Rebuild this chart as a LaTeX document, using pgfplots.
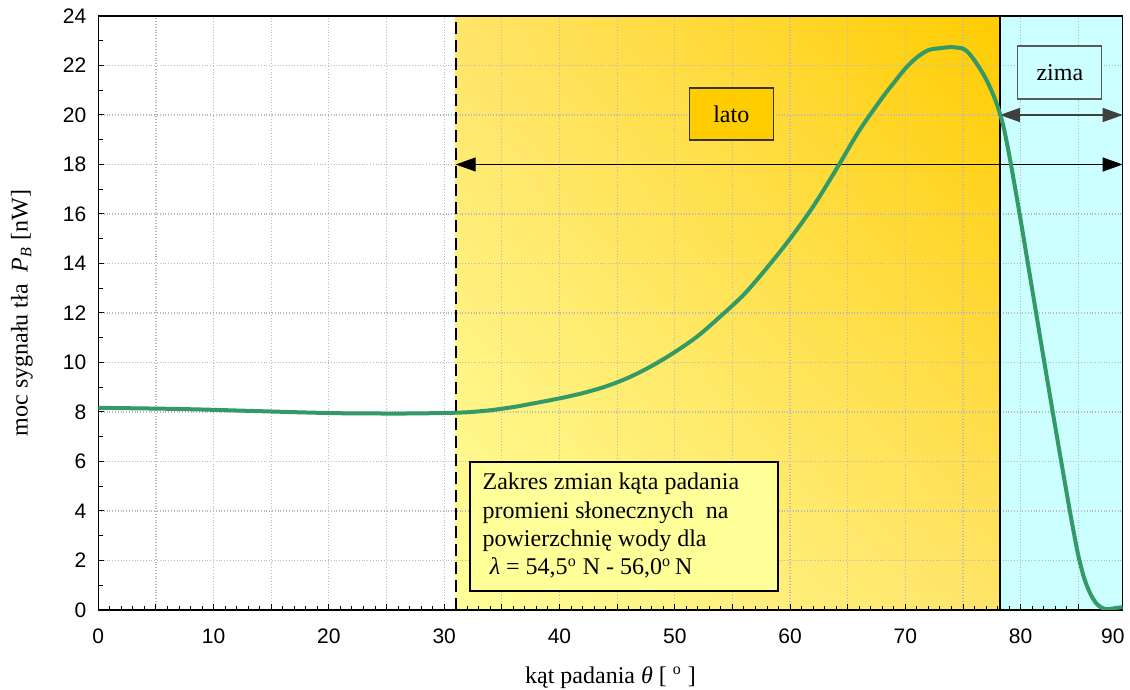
\documentclass[border=0pt]{standalone}
\usepackage{fontspec}
\setmainfont{Liberation Serif}
\newfontfamily\ticksf{Liberation Sans}
\usepackage{pgfplots}
\pgfplotsset{compat=1.18}
\usetikzlibrary{arrows.meta,shadings}
\definecolor{curve}{RGB}{51,153,102}
\definecolor{paley}{RGB}{255,255,153}
\definecolor{deepy}{RGB}{255,204,0}
\definecolor{midy}{RGB}{255,228,105}
\definecolor{cyanbg}{RGB}{204,255,255}
\definecolor{gridc}{RGB}{185,185,185}
\begin{document}
\begin{tikzpicture}
\begin{axis}[
  set layers,
  at={(0,0)}, anchor=south west,
  scale only axis, width=512.2pt, height=297pt,
  xmin=0, xmax=88.85, ymin=0, ymax=24,
  xtick={0,5,...,85},
  xticklabels={0,,10,,20,,30,,40,,50,,60,,70,,80,},
  extra x ticks={88}, extra x tick labels={90},
  extra x tick style={grid=none, major tick length=0pt},
  minor x tick num=4,
  ytick={0,2,...,24}, minor y tick num=1,
  tick align=inside, xtick pos=bottom, ytick pos=left,
  grid=major, major grid style={gridc, densely dotted, line width=0.6pt},
  axis line style={black, line width=0.7pt},
  tick style={black, line width=0.5pt},
  major tick length=3pt, minor tick length=2.2pt,
  /pgf/number format/assume math mode=true,
  ticklabel style={font=\ticksf\fontsize{10.5}{12}\selectfont},
  xticklabel style={yshift=-6pt},
  yticklabel style={xshift=-2.5pt},
  xlabel={kąt padania \textit{θ} [ \textsuperscript{o} ]},
  ylabel={moc sygnału tła\ \ \textit{P}\textsubscript{\textit{B}} [nW]},
  label style={font=\fontsize{12}{14}\selectfont},
  xlabel style={at={(axis description cs:0.5,-0.114)}, anchor=center},
  ylabel style={at={(axis description cs:-0.0745,0.5)}, anchor=center},
]
\addplot[forget plot, on layer=axis background, draw=none,
  lower left=paley, upper right=deepy, upper left=midy, lower right=midy]
  coordinates {(31,0) (78.2,0) (78.2,24) (31,24)} -- cycle;
\addplot[forget plot, on layer=axis background, draw=none, fill=cyanbg]
  coordinates {(78.2,0) (88.85,0) (88.85,24) (78.2,24)} -- cycle;

\draw[black, line width=0.7pt] (axis cs:78.2,0) -- (axis cs:78.2,24);
\draw[black, line width=1.1pt, dash pattern=on 6pt off 3pt] (axis cs:31,0) -- (axis cs:31,24);

\draw[black, line width=0.5pt, {Triangle[length=10pt,width=7pt]}-{Triangle[length=10pt,width=7pt]}]
  (axis cs:31,18) -- (axis cs:88.85,18);
\draw[black!75, line width=0.6pt, {Triangle[length=10pt,width=7pt]}-{Triangle[length=10pt,width=7pt]}]
  (axis cs:78.2,20) -- (axis cs:88.85,20);

\node[draw=black!80, fill=deepy, line width=0.6pt, minimum width=42pt, minimum height=26pt,
  font=\fontsize{12}{14}\selectfont] at (axis cs:54.9,20.04) {lato};
\node[draw=black!65, fill=cyanbg, line width=0.6pt, minimum width=42pt, minimum height=26.5pt,
  font=\fontsize{12}{14}\selectfont] at (axis cs:83.4,21.72) {zima};

\draw[black, line width=1.1pt, fill=paley] (axis cs:32.24,0.77) rectangle (axis cs:58.95,5.98);
\node[anchor=north west, inner sep=0pt, align=left, font=\fontsize{12}{14.2}\selectfont]
  at (axis cs:33.3,5.55) {Zakres zmian kąta padania\\
  promieni słonecznych\ \ na\\
  powierzchnię wody dla\\
  \hspace{0.3em}\textit{λ} = 54,5\textsuperscript{o} N - 56,0\textsuperscript{o}\,N};

\addplot[curve, line width=2pt, smooth, tension=0.5] coordinates {
(0,8.17) (3,8.15) (6,8.13) (9,8.10) (12,8.06) (15,8.02) (18,7.98) (21,7.95)
(24,7.94) (27,7.94) (30,7.96) (32,7.99) (34,8.07) (36,8.20) (38,8.37) (40,8.55)
(42,8.76) (44,9.03) (46,9.39) (48,9.86) (50,10.42) (52,11.07) (54,11.88)
(56,12.75) (58,13.83) (60,15.00) (62,16.30) (64,17.80) (66,19.37) (68,20.70)
(69,21.30) (70,21.88) (71,22.33) (72,22.62) (73,22.70) (74,22.74) (75,22.68)
(75.5,22.50) (76,22.20) (76.5,21.85) (77,21.45) (77.5,20.95) (78,20.35) (78.5,19.55)
(79,18.40) (79.5,17.10) (80,15.75) (81,12.95) (82,10.15) (83,7.40) (84,4.70)
(84.5,3.40) (85,2.20) (85.5,1.30) (86,0.70) (86.5,0.30) (87,0.10) (87.5,0.03)
(88,0.06) (88.5,0.10) (88.85,0.10)
};
\end{axis}
\pgfresetboundingbox
\path[use as bounding box] (-49.15pt,-40pt) rectangle (515.85pt,305pt);
\end{tikzpicture}
\end{document}
